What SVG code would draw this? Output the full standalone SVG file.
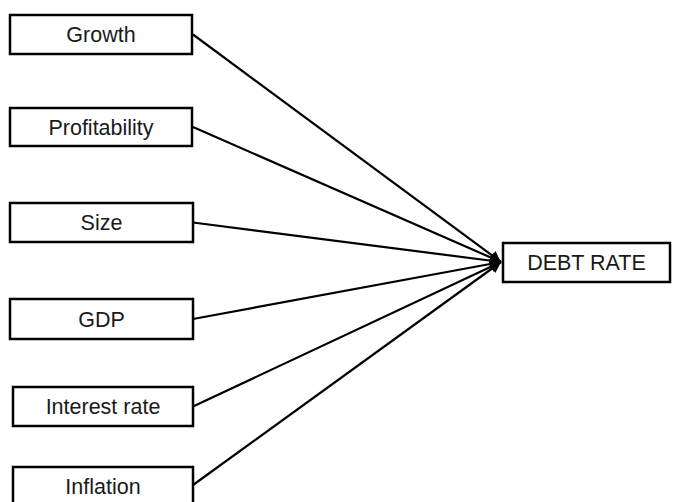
<svg xmlns="http://www.w3.org/2000/svg" width="673" height="502" viewBox="0 0 673 502">
<defs>
<marker id="ah" viewBox="0 0 10 10" refX="10" refY="5" markerWidth="5" markerHeight="5" orient="auto" markerUnits="strokeWidth">
<path d="M0,0 L10,5 L0,10 z" fill="#000"/>
</marker>
<style>
.n rect{fill:#fff;stroke:#000;stroke-width:2.5}
.n text{font-family:"Liberation Sans",Arial,sans-serif;font-size:21.5px;fill:#1a1a1a;text-anchor:middle}
.c line{stroke:#000;stroke-width:2.2;marker-end:url(#ah)}
</style>
</defs>
<rect width="673" height="502" fill="#fff"/>
<g class="c" id="connectors">
<line x1="193" y1="34.5" x2="501" y2="262"/>
<line x1="193" y1="127" x2="501" y2="262"/>
<line x1="193" y1="222.5" x2="501" y2="262"/>
<line x1="193" y1="319" x2="501" y2="262"/>
<line x1="193" y1="406.5" x2="501" y2="262"/>
<line x1="193" y1="485" x2="501" y2="262"/>
</g>
<g class="n" id="growth"><rect x="10" y="15" width="182" height="39"/><text x="101" y="42">Growth</text></g>
<g class="n" id="profitability"><rect x="10" y="108" width="182" height="38"/><text x="101" y="135">Profitability</text></g>
<g class="n" id="size"><rect x="10" y="203" width="183" height="39"/><text x="101.5" y="230">Size</text></g>
<g class="n" id="gdp"><rect x="10" y="299" width="183" height="40"/><text x="101.5" y="327">GDP</text></g>
<g class="n" id="interest"><rect x="13" y="387" width="180" height="39"/><text x="103" y="414">Interest rate</text></g>
<g class="n" id="inflation"><rect x="13" y="467" width="180" height="39"/><text x="103" y="494">Inflation</text></g>
<g class="n" id="debt"><rect x="503" y="243" width="167" height="39"/><text x="586.5" y="270">DEBT RATE</text></g>
</svg>
